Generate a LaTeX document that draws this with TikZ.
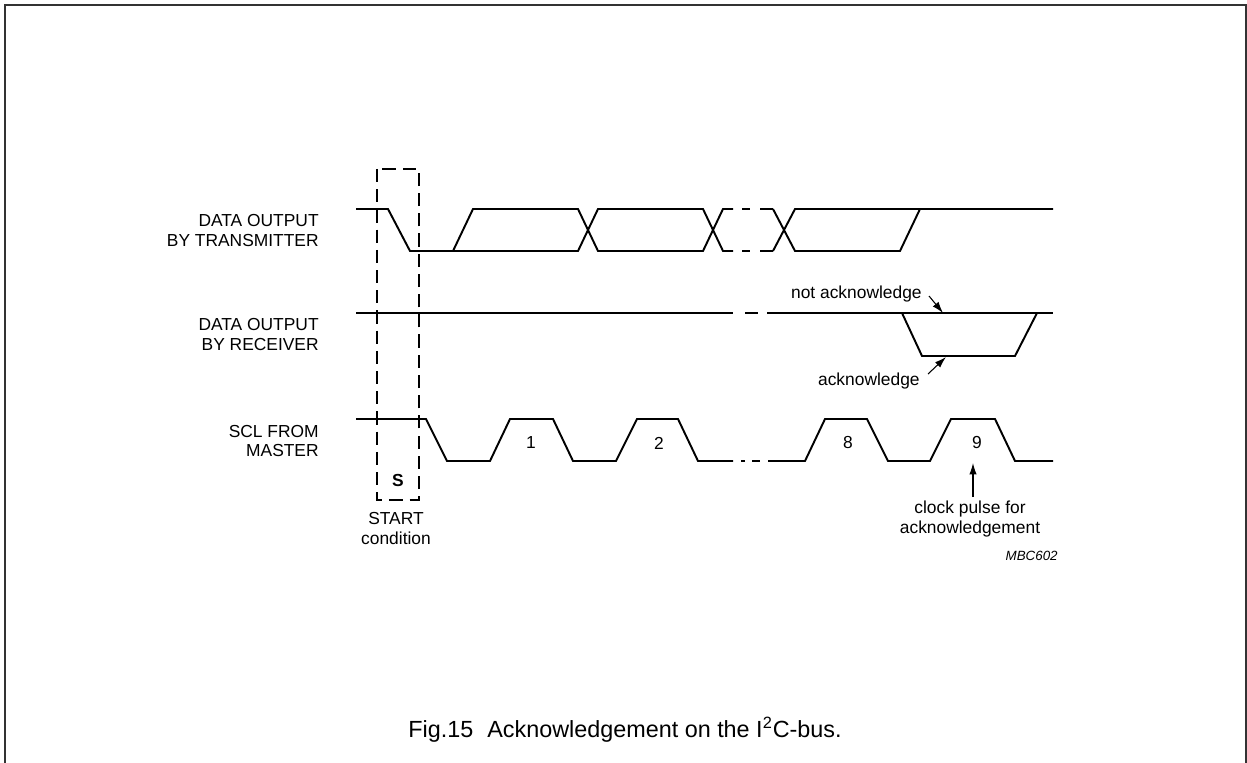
\documentclass[tikz,border=0pt]{standalone}
\usepackage{fontspec}
\setmainfont{Liberation Sans}
\usetikzlibrary{arrows.meta}

\begin{document}
\begin{tikzpicture}[x=0.02cm, y=-0.02cm,
    signal/.style={line width=1.1pt, line join=miter},
    startbox/.style={line width=0.6pt, dash pattern=on 7.5pt off 4pt},
    ptr/.style={line width=0.6pt, -{Latex[length=6.5pt, width=4.2pt]}},
    lbl/.style={font=\fontsize{9.9}{11.3}\selectfont, inner sep=0pt}]
    % Fix the page size
    \useasboundingbox (0,0) rectangle (1247,763);
    \draw[line width=1pt, black!80] (5,763) -- (5,5) -- (1246,5) -- (1246,763);

    % Signal names
    \node[lbl, align=right, anchor=east] (txname) at (319,230.5) {DATA OUTPUT\\BY TRANSMITTER};
    \node[lbl, align=right, anchor=east] (rxname) at (319,334.5) {DATA OUTPUT\\BY RECEIVER};
    \node[lbl, align=right, anchor=east] (sclname) at (319,441) {SCL FROM\\MASTER};

    % START condition box
    \draw[startbox] (377,169) rectangle (419,500);
    \node[lbl, font=\fontsize{9.9}{11.3}\selectfont\bfseries] (start) at (398,480.5) {S};
    \node[lbl, align=center] (startlbl) at (396,528.5) {START\\condition};

    % Data output by transmitter
    \draw[signal] (356,209) -- (388,209) -- (410,251) -- (578,251) -- (598,209) -- (703,209) -- (723,251) -- (733,251);
    \draw[signal] (453,251) -- (473,209) -- (578,209) -- (598,251) -- (703,251) -- (723,209) -- (733,209);
    \draw[signal] (742,209) -- (750,209) (760,209) -- (773,209);
    \draw[signal] (742,251) -- (750,251) (760,251) -- (773,251);
    \draw[signal] (773,209) -- (795,251) -- (900,251) -- (920,209);
    \draw[signal] (773,251) -- (795,209) -- (1053,209);

    % Data output by receiver
    \draw[signal] (356,313) -- (733,313) (745,313) -- (758,313) (767,313) -- (1053,313);
    \draw[signal] (902,313) -- (922,356) -- (1015,356) -- (1037,313);

    % SCL from master
    \draw[signal] (356,419) -- (426,419) -- (447,461) -- (490,461) -- (510,419) -- (553,419) -- (573,461)
        -- (616,461) -- (637,419) -- (678,419) -- (698,461) -- (733,461);
    \draw[signal] (741,461) -- (745,461) (752,461) -- (760,461);
    \draw[signal] (768,461) -- (805,461) -- (825,419) -- (867,419) -- (888,461) -- (930,461) -- (951,419)
        -- (995,419) -- (1015,461) -- (1053,461);

    % Clock numbers
    \node[lbl] (clk1) at (531,443) {1};
    \node[lbl] (clk2) at (659,443) {2};
    \node[lbl] (clk8) at (848,443) {8};
    \node[lbl] (clk9) at (977,443) {9};

    % Acknowledge labels
    \node[lbl, anchor=east] (nack) at (922,294) {not acknowledge};
    \coordinate (nackfrom) at (929,296);
    \coordinate (nackto) at (943,313);
    \draw[ptr] (nackfrom) -- (nackto);

    \node[lbl, anchor=east] (ack) at (920,381) {acknowledge};
    \coordinate (ackfrom) at (928,374);
    \coordinate (ackto) at (946,357);
    \draw[ptr] (ackfrom) -- (ackto);

    \node[lbl, align=center] (clkack) at (970,519) {clock pulse for\\acknowledgement};
    \coordinate (clkfrom) at (973,497);
    \coordinate (clkto) at (973,463);
    \draw[ptr] (clkfrom) -- (clkto);

    \node[lbl, anchor=east, font=\fontsize{7.6}{9}\selectfont\itshape] (code) at (1058,556) {MBC602};

    % Caption
    \node[inner sep=0pt, font=\fontsize{13.3}{15}\selectfont] (caption) at (625,730)
        {Fig.15\hspace{0.6em}Acknowledgement on the I\textsuperscript{2}C-bus.};
\end{tikzpicture}
\end{document}
